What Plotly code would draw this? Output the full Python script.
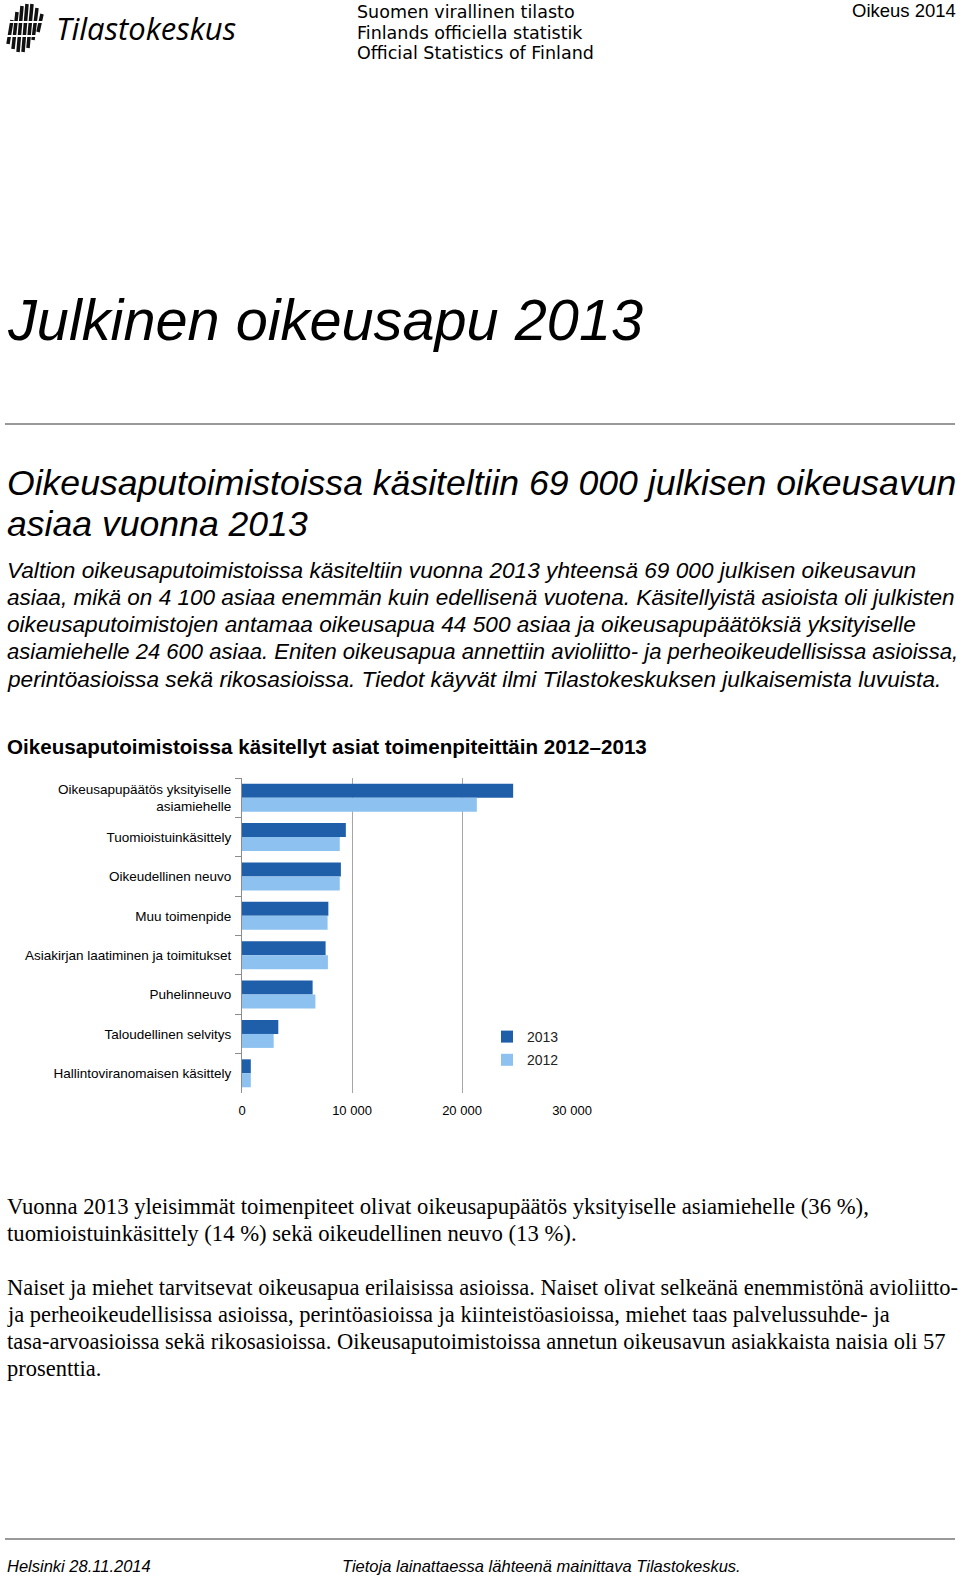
import plotly.graph_objects as go

W, H = 960, 1579

# datos del gráfico (asiat toimenpiteittäin)
toimenpiteet = [
    'Oikeusapupäätös yksityiselle<br>asiamiehelle',
    'Tuomioistuinkäsittely',
    'Oikeudellinen neuvo',
    'Muu toimenpide',
    'Asiakirjan laatiminen ja toimitukset',
    'Puhelinneuvo',
    'Taloudellinen selvitys',
    'Hallintoviranomaisen käsittely',
]
asiat_2013 = [24650, 9440, 8990, 7850, 7600, 6420, 3300, 800]
asiat_2012 = [21350, 8890, 8890, 7780, 7810, 6670, 2880, 800]
x_ticks = [0, 10000, 20000, 30000]
x_tick_labels = ['0', '10 000', '20 000', '30 000']

otsikko = 'Julkinen oikeusapu 2013'
alaotsikko = ['Oikeusaputoimistoissa käsiteltiin 69 000 julkisen oikeusavun',
              'asiaa vuonna 2013']
ingressi = [
    'Valtion oikeusaputoimistoissa käsiteltiin vuonna 2013 yhteensä 69 000 julkisen oikeusavun',
    'asiaa, mikä on 4 100 asiaa enemmän kuin edellisenä vuotena. Käsitellyistä asioista oli julkisten',
    'oikeusaputoimistojen antamaa oikeusapua 44 500 asiaa ja oikeusapupäätöksiä yksityiselle',
    'asiamiehelle 24 600 asiaa. Eniten oikeusapua annettiin avioliitto- ja perheoikeudellisissa asioissa,',
    'perintöasioissa sekä rikosasioissa. Tiedot käyvät ilmi Tilastokeskuksen julkaisemista luvuista.',
]
kuvion_otsikko = 'Oikeusaputoimistoissa käsitellyt asiat toimenpiteittäin 2012–2013'
kappale_1 = [
    'Vuonna 2013 yleisimmät toimenpiteet olivat oikeusapupäätös yksityiselle asiamiehelle (36 %),',
    'tuomioistuinkäsittely (14 %) sekä oikeudellinen neuvo (13 %).',
]
kappale_2 = [
    'Naiset ja miehet tarvitsevat oikeusapua erilaisissa asioissa. Naiset olivat selkeänä enemmistönä avioliitto-',
    'ja perheoikeudellisissa asioissa, perintöasioissa ja kiinteistöasioissa, miehet taas palvelussuhde- ja',
    'tasa-arvoasioissa sekä rikosasioissa. Oikeusaputoimistoissa annetun oikeusavun asiakkaista naisia oli 57',
    'prosenttia.',
]
cabecera = ['Suomen virallinen tilasto', 'Finlands officiella statistik', 'Official Statistics of Finland']

SANS = 'Liberation Sans, Arial, sans-serif'
SERIF = 'Liberation Serif, Times New Roman, serif'


def px(x):
    return x / W


def py(y):
    return 1 - y / H


def texto(t, x, y, size, family=SANS, style='normal', weight='normal', xanchor='left'):
    return dict(text=t, x=px(x), y=py(y), xref='paper', yref='paper',
                xanchor=xanchor, yanchor='middle', showarrow=False,
                font=dict(family=family, size=size, style=style, weight=weight, color='black'))


fig = go.Figure()
fig.add_trace(go.Bar(y=toimenpiteet, x=asiat_2013, name='2013', orientation='h',
                     marker=dict(color='#1f5fa9', line=dict(width=0)), legendgroup='a'))
fig.add_trace(go.Bar(y=toimenpiteet, x=asiat_2012, name='2012', orientation='h',
                     marker=dict(color='#8dc2f0', line=dict(width=0)), legendgroup='b'))

anns = []
# cabecera
anns.append(texto('Tilastokeskus', 54, 28, 31, family='Open Sans, sans-serif', style='italic'))
for i, t in enumerate(cabecera):
    anns.append(texto(t, 355, 12 + i * 20.7, 17.5, family='DejaVu Sans, sans-serif'))
anns.append(texto('Oikeus 2014', 958, 11, 18.5, xanchor='right'))

anns.append(texto(otsikko, 5, 320, 57.7, style='italic'))
for i, t in enumerate(alaotsikko):
    anns.append(texto(t, 5, 483 + i * 40.5, 35.6, style='italic'))
# el texto original va justificado: la cuarta línea se ajusta un poco para caber
tamanos_ingressi = [22.65, 22.55, 22.65, 22.05, 22.65]
for i, t in enumerate(ingressi):
    anns.append(texto(t, 5, 570 + i * 27.2, tamanos_ingressi[i], style='italic'))
anns.append(texto(kuvion_otsikko, 5, 746, 20.6, weight='bold'))
for i, t in enumerate(kappale_1):
    anns.append(texto(t, 5, 1206 + i * 27.2, 22.7, family=SERIF))
for i, t in enumerate(kappale_2):
    anns.append(texto(t, 5, 1287 + i * 27.3, 22.5, family=SERIF))
anns.append(texto('Helsinki 28.11.2014', 5, 1566, 16.5, style='italic'))
anns.append(texto('Tietoja lainattaessa lähteenä mainittava Tilastokeskus.', 340, 1566, 16.5, style='italic'))

# líneas separadoras y logo
shapes = [
    dict(type='line', xref='paper', yref='paper', x0=px(5), x1=px(955), y0=py(424), y1=py(424),
         line=dict(color='#999999', width=2)),
    dict(type='line', xref='paper', yref='paper', x0=px(5), x1=px(955), y0=py(1539), y1=py(1539),
         line=dict(color='#999999', width=2)),
]
logo_barras = [(8, 20, 44), (13, 12, 49), (18, 6, 52), (23, 4, 52), (28, 4, 48), (33, 8, 40), (38, 14, 32)]
for x0, ytop, ybot in logo_barras:
    shapes.append(dict(type='line', xref='paper', yref='paper',
                       x0=px(x0), x1=px(x0 + 4), y0=py(ybot), y1=py(ytop),
                       line=dict(color='#111111', width=3.5)))
for yc in [22, 36]:
    shapes.append(dict(type='line', xref='paper', yref='paper', x0=px(4), x1=px(46),
                       y0=py(yc), y1=py(yc), line=dict(color='white', width=2)))

fig.update_layout(
    width=W, height=H,
    margin=dict(l=0, r=0, t=0, b=0, autoexpand=False),
    paper_bgcolor='white', plot_bgcolor='white',
    barmode='group', bargap=0.29, bargroupgap=0,
    font=dict(family=SANS, color='black'),
    annotations=anns, shapes=shapes,
    legend=dict(x=px(487), y=py(1021), xanchor='left', yanchor='top',
                font=dict(family=SANS, size=14, color='#222'),
                tracegroupgap=2, itemwidth=30, bgcolor='rgba(0,0,0,0)'),
    xaxis=dict(domain=[px(242), px(572)], range=[0, 30000], tickvals=x_ticks, ticktext=x_tick_labels,
               showgrid=True, gridcolor='#a6a6a6', gridwidth=1, zeroline=False, showline=False,
               automargin=False, ticks='', ticklabelstandoff=8,
               tickfont=dict(size=13, color='black'), anchor='y'),
    yaxis=dict(domain=[py(1093), py(778)], autorange='reversed', showline=True, linecolor='#8c8c8c',
               ticks='outside', tickson='boundaries', ticklen=6, tickcolor='#8c8c8c',
               automargin=False, ticklabelstandoff=7, tickfont=dict(size=13.5, color='black'),
               showgrid=False, zeroline=False, anchor='x'),
)

# sin márgenes de página para que la figura ocupe exactamente la ventana
fig.write_html('out.html', config={'responsive': False, 'displayModeBar': False},
               post_script="document.body.style.margin='0';document.documentElement.style.overflow='hidden';")
